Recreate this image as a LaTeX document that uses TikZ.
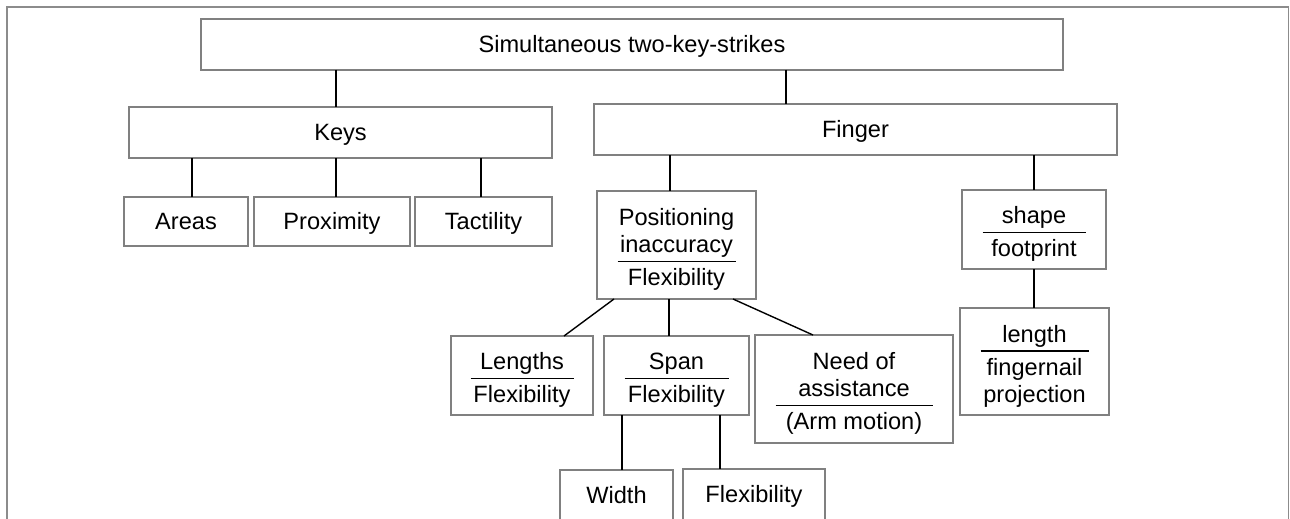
\documentclass[tikz,border=0pt]{standalone}
\usepackage{fontspec}
\setmainfont{Liberation Sans}
\usepackage{array}
\setlength{\arrayrulewidth}{0.9pt}
\newcommand{\fracbox}[3]{\raisebox{-2.6pt}[\height][\depth]{\begin{tabular}{@{}>{\centering\arraybackslash}p{#1}@{}}#2\\\hline\rule{0pt}{11.6pt}#3\end{tabular}}}
\tikzset{
  box/.style={draw=black!50, line width=0.9pt, rectangle, inner sep=0pt, outer sep=0pt,
    font=\fontsize{11.8pt}{13.5pt}\selectfont},
  onebox/.style={box, text height=8.45pt, text depth=0pt},
  link/.style={draw=black, line width=0.7pt},
  frame/.style={draw=black!45, line width=0.75pt},
}
\begin{document}
\begin{tikzpicture}[x=0.5pt,y=-0.5pt]
\useasboundingbox (0,0) rectangle (1290,519);
\clip (0,0) rectangle (1290,519);
\draw[frame] (7,530) -- (7,7) -- (1288.5,7) -- (1288.5,530);

\node[onebox, minimum width=431pt, minimum height=25.5pt] (top) at (632,44.5) {Simultaneous two-key-strikes};
\node[onebox, minimum width=211.5pt, minimum height=25.5pt] (keys) at (340.5,132.5) {Keys};
\node[onebox, minimum width=261.5pt, minimum height=25.5pt] (finger) at (855.5,129.5) {Finger};
\node[onebox, minimum width=62pt, minimum height=24.5pt] (areas) at (186,221.5) {Areas};
\node[onebox, minimum width=78pt, minimum height=24.5pt] (prox) at (332,221.5) {Proximity};
\node[onebox, minimum width=68.5pt, minimum height=24.5pt] (tact) at (483.5,221.5) {Tactility};
\node[box, minimum width=79.5pt, minimum height=54pt] (pos) at (676.5,245) {\fracbox{59pt}{Positioning\\inaccuracy}{Flexibility}};
\node[box, minimum width=72pt, minimum height=39.5pt] (shape) at (1034,229.5) {\fracbox{51.5pt}{shape}{footprint}};
\node[box, minimum width=71pt, minimum height=39.5pt] (lengths) at (522,375.5) {\fracbox{51.5pt}{Lengths}{Flexibility}};
\node[box, minimum width=72.5pt, minimum height=39.5pt] (span) at (676.5,375.5) {\fracbox{52pt}{Span}{Flexibility}};
\node[box, minimum width=99pt, minimum height=54pt] (need) at (854,389) {\fracbox{78.5pt}{Need of\\assistance}{(Arm motion)}};
\node[box, minimum width=74.5pt, minimum height=53.5pt] (length) at (1034.5,361.5) {\fracbox{54pt}{length}{fingernail\\projection}};
\node[onebox, minimum width=56.5pt, minimum height=25pt] (width) at (616.5,495) {Width};
\node[onebox, minimum width=71pt, minimum height=25.5pt] (flex) at (754,494.5) {Flexibility};

\draw[link] ([xshift=-148pt]top.south) -- ([xshift=-2.25pt]keys.north);
\draw[link] ([xshift=77pt]top.south) -- ([xshift=-34.75pt]finger.north);
\draw[link] ([xshift=-74.25pt]keys.south) -- ([xshift=3pt]areas.north);
\draw[link] ([xshift=-2.25pt]keys.south) -- ([xshift=2pt]prox.north);
\draw[link] ([xshift=70.25pt]keys.south) -- ([xshift=-1.25pt]tact.north);
\draw[link] ([xshift=-92.75pt]finger.south) -- ([xshift=-3.25pt]pos.north);
\draw[link] ([xshift=89.25pt]finger.south) -- (shape.north);
\draw[link] (shape.south) -- ([xshift=-0.25pt]length.north);
\draw[link] ([xshift=-31.25pt]pos.south) -- ([xshift=21pt]lengths.north);
\draw[link] ([xshift=-3.75pt]pos.south) -- ([xshift=-3.75pt]span.north);
\draw[link] ([xshift=28.25pt]pos.south) -- ([xshift=-20.5pt]need.north);
\draw[link] ([xshift=-27.25pt]span.south) -- ([xshift=2.75pt]width.north);
\draw[link] ([xshift=21.75pt]span.south) -- ([xshift=-17pt]flex.north);
\end{tikzpicture}
\end{document}
